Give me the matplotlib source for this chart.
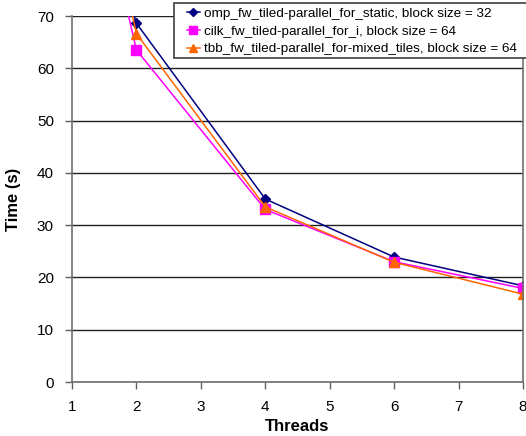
import matplotlib
matplotlib.use("Agg")
import matplotlib.pyplot as plt
from matplotlib.patches import Rectangle

plt.rcParams['font.family'] = ['Liberation Sans', 'DejaVu Sans']

threads = [1, 2, 4, 6, 8]
omp_times = [112, 68.6, 35.0, 23.9, 18.4]
cilk_times = [117, 63.5, 33.0, 23.0, 17.9]
tbb_times = [122, 66.6, 33.5, 22.9, 16.8]
labels = ['omp_fw_tiled-parallel_for_static, block size = 32',
          'cilk_fw_tiled-parallel_for_i, block size = 64',
          'tbb_fw_tiled-parallel_for-mixed_tiles, block size = 64']

W, H = 526, 436
fig = plt.figure(figsize=(W / 100, H / 100), dpi=100)
ax = fig.add_axes([72 / W, 1 - 382 / H, (523 - 72) / W, (382 - 16) / H])

ax.plot(threads, omp_times, color='#000080', marker='D', markersize=5, lw=1.1,
        label=labels[0])
ax.plot(threads, cilk_times, color='#FF00FF', marker='s', markersize=6.5, lw=1.1,
        label=labels[1])
ax.plot(threads, tbb_times, color='#FF6600', marker='^', markersize=6.5, lw=1.1,
        label=labels[2])

ax.set_xlim(1, 8)
ax.set_ylim(0, 70)
ax.set_xticks(range(1, 9))
ax.set_yticks(range(0, 71, 10))
ax.grid(axis='y', color='#202020', lw=1.0)
ax.set_axisbelow(True)

for side in ['left', 'bottom', 'right']:
    ax.spines[side].set_color('#707070')
    ax.spines[side].set_linewidth(1.2)
ax.spines['top'].set_visible(False)
ax.tick_params(axis='both', labelsize=11, direction='out', length=5,
               color='#606060', width=1)
ax.tick_params(axis='y', pad=8)
ax.tick_params(axis='x', pad=8)

ax.set_xlabel('Threads', fontsize=12, fontweight='bold')
ax.set_ylabel('Time (s)', fontsize=12, fontweight='bold')
ax.xaxis.set_label_coords(0.5, -0.1)
ax.yaxis.set_label_coords(-0.112, 0.5)

# legend box runs past the right edge of the figure
fig.patches.append(Rectangle((174 / W, 1 - 58 / H), (560 - 174) / W, 55 / H,
                             transform=fig.transFigure, facecolor='white',
                             edgecolor='#404040', lw=1.2, zorder=4))
leg = fig.legend(loc='upper left', bbox_to_anchor=(184 / W, 1 - 5 / H),
                 frameon=False, fontsize=9.7, handlelength=1.0,
                 handletextpad=0.3, labelspacing=0.38, borderpad=0.2,
                 borderaxespad=0, markerscale=0.85)
leg.set_zorder(5)

fig.savefig('out.png', dpi=100)
